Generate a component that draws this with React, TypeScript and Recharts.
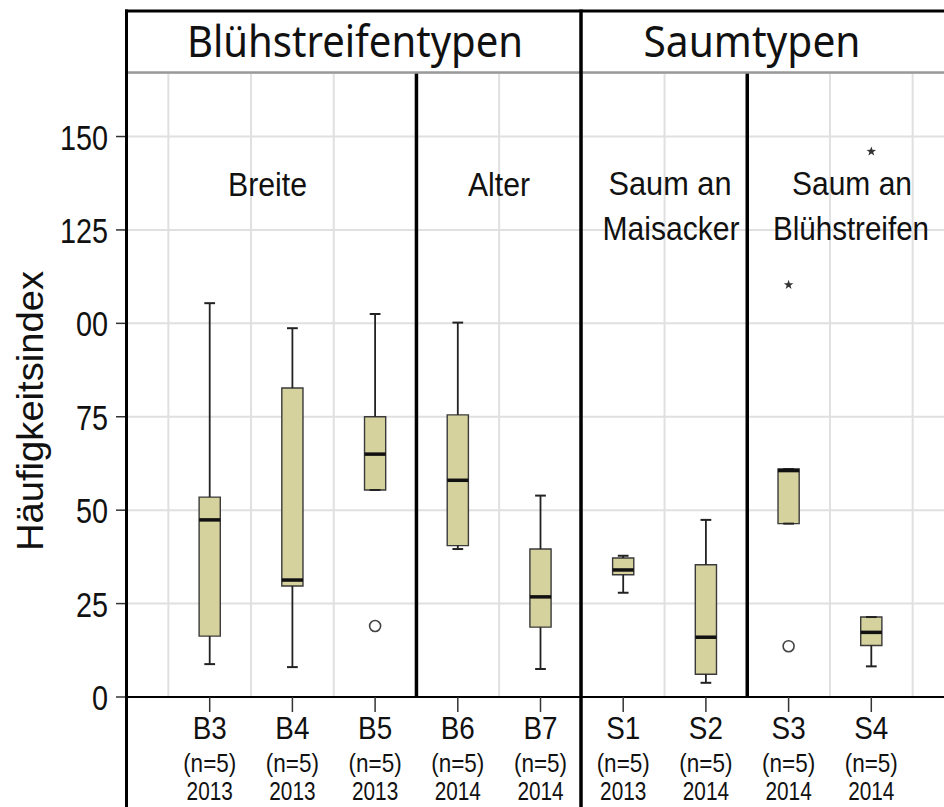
import React from "react";
import {
  ComposedChart,
  XAxis,
  YAxis,
  CartesianGrid,
  ReferenceArea,
  ReferenceLine,
  Scatter,
} from "recharts";

// categories and tick labels
const categories = ["B3", "B4", "B5", "B6", "B7", "S1", "S2", "S3", "S4"];
const sampleSizes = ["(n=5)", "(n=5)", "(n=5)", "(n=5)", "(n=5)", "(n=5)", "(n=5)", "(n=5)", "(n=5)"];
const years = ["2013", "2013", "2013", "2014", "2014", "2013", "2014", "2014", "2014"];
const yTicks = [0, 25, 50, 75, 100, 125, 150];
const yTickLabels = ["0", "25", "50", "75", "00", "125", "150"];

// box plot statistics
const whiskerLow = [8.8, 8.0, 55.4, 39.6, 7.5, 27.9, 3.8, 46.4, 8.2];
const q1 = [16.3, 29.7, 55.4, 40.5, 18.7, 32.7, 6.1, 46.4, 13.8];
const median = [47.4, 31.3, 65.0, 58.0, 26.8, 34.0, 16.0, 60.6, 17.3];
const q3 = [53.5, 82.7, 75.0, 75.5, 39.6, 37.2, 35.4, 61.0, 21.4];
const whiskerHigh = [105.4, 98.7, 102.5, 100.2, 53.9, 37.8, 47.4, 61.0, 21.4];

// outliers
const circleOutliers = [
  { x: 2, y: 19.0 },
  { x: 7, y: 13.6 },
];
const starOutliers = [
  { x: 7, y: 110.3 },
  { x: 8, y: 146.0 },
];

const gridX = [-0.5, 0.5, 1.5, 2.5, 3.5, 4.5, 5.5, 6.5, 7.5, 8.5];
const groupSeparators = [2.5, 6.5];

const FONT = "'Liberation Sans', Arial, sans-serif";
const HEAD_FONT = "'Noto Sans', 'Open Sans', sans-serif";
const BOX_FILL = "#d6d29d";
const HALF_BOX = 0.128;
const HALF_CAP = 0.065;

const XTick = (props: any) => {
  const { x, y, payload } = props;
  const i = payload.value as number;
  return (
    <g transform={`translate(${x},${y})`} fill="#111" fontFamily={FONT}>
      <text transform="translate(0,27) scale(0.87,1)" textAnchor="middle" fontSize={32}>
        {categories[i]}
      </text>
      <text transform="translate(0,60) scale(0.9,1)" textAnchor="middle" fontSize={25}>
        {sampleSizes[i]}
      </text>
      <text transform="translate(0,88) scale(0.8,1)" textAnchor="middle" fontSize={26}>
        {years[i]}
      </text>
    </g>
  );
};

const YTick = (props: any) => {
  const { x, y, payload } = props;
  const idx = yTicks.indexOf(payload.value);
  return (
    <text
      transform={`translate(${x},${y + 13}) scale(0.8,1)`}
      textAnchor="end"
      fontSize={36}
      fontFamily={FONT}
      fill="#111"
    >
      {yTickLabels[idx]}
    </text>
  );
};

const CircleMark = (props: any) => (
  <circle cx={props.cx} cy={props.cy} r={5.5} fill="#fff" stroke="#444" strokeWidth={1.6} />
);

const StarMark = (props: any) => {
  const { cx, cy } = props;
  const pts: string[] = [];
  for (let k = 0; k < 10; k++) {
    const r = k % 2 === 0 ? 5 : 2;
    const a = -Math.PI / 2 + (k * Math.PI) / 5;
    pts.push(`${cx + r * Math.cos(a)},${cy + r * Math.sin(a)}`);
  }
  return <polygon points={pts.join(" ")} fill="#333" />;
};

export default function App() {
  return (
    <div
      style={{
        position: "fixed",
        left: 0,
        top: 0,
        width: 944,
        height: 807,
        overflow: "hidden",
        background: "#fff",
      }}
    >
      <ComposedChart width={954} height={807} margin={{ top: 73, right: 0, bottom: 0, left: 67 }}>
        <CartesianGrid vertical={false} stroke="#e0e0e0" strokeWidth={2} />
        <XAxis
          type="number"
          dataKey="x"
          domain={[-1, 9]}
          ticks={[0, 1, 2, 3, 4, 5, 6, 7, 8]}
          interval={0}
          allowDataOverflow
          height={110}
          tickSize={15}
          tickMargin={0}
          tick={<XTick />}
          axisLine={{ stroke: "#000", strokeWidth: 2 }}
          tickLine={{ stroke: "#333", strokeWidth: 1.5 }}
        />
        <YAxis
          type="number"
          dataKey="y"
          domain={[0, 167]}
          ticks={yTicks}
          allowDataOverflow
          width={60}
          tickSize={11}
          tickMargin={8}
          tick={<YTick />}
          axisLine={false}
          tickLine={{ stroke: "#333", strokeWidth: 1.5 }}
        />
        {gridX.map((v) => (
          <ReferenceLine key={`g${v}`} x={v} stroke="#e0e0e0" strokeWidth={2} />
        ))}
        {groupSeparators.map((v) => (
          <ReferenceLine key={`s${v}`} x={v} stroke="#000" strokeWidth={3.5} />
        ))}
        {categories.map((c, i) => (
          <ReferenceArea
            key={`box${c}`}
            x1={i - HALF_BOX}
            x2={i + HALF_BOX}
            y1={q1[i]}
            y2={q3[i]}
            fill={BOX_FILL}
            fillOpacity={1}
            stroke="#3a3a3a"
            strokeWidth={1.4}
          />
        ))}
        {categories.map((c, i) => (
          <ReferenceLine
            key={`lw${c}`}
            segment={[
              { x: i, y: whiskerLow[i] },
              { x: i, y: q1[i] },
            ]}
            stroke="#222"
            strokeWidth={1.8}
          />
        ))}
        {categories.map((c, i) => (
          <ReferenceLine
            key={`hw${c}`}
            segment={[
              { x: i, y: q3[i] },
              { x: i, y: whiskerHigh[i] },
            ]}
            stroke="#222"
            strokeWidth={1.8}
          />
        ))}
        {categories.map((c, i) => (
          <ReferenceLine
            key={`lc${c}`}
            segment={[
              { x: i - HALF_CAP, y: whiskerLow[i] },
              { x: i + HALF_CAP, y: whiskerLow[i] },
            ]}
            stroke="#222"
            strokeWidth={2}
          />
        ))}
        {categories.map((c, i) => (
          <ReferenceLine
            key={`hc${c}`}
            segment={[
              { x: i - HALF_CAP, y: whiskerHigh[i] },
              { x: i + HALF_CAP, y: whiskerHigh[i] },
            ]}
            stroke="#222"
            strokeWidth={2}
          />
        ))}
        {categories.map((c, i) => (
          <ReferenceLine
            key={`md${c}`}
            segment={[
              { x: i - HALF_BOX, y: median[i] },
              { x: i + HALF_BOX, y: median[i] },
            ]}
            stroke="#111"
            strokeWidth={3.5}
          />
        ))}
        <Scatter data={circleOutliers} dataKey="y" shape={<CircleMark />} isAnimationActive={false} />
        <Scatter data={starOutliers} dataKey="y" shape={<StarMark />} isAnimationActive={false} />
      </ComposedChart>

      <svg
        width={944}
        height={807}
        style={{ position: "absolute", left: 0, top: 0, pointerEvents: "none" }}
      >
        {/* header frame */}
        <line x1={125} y1={11} x2={944} y2={11} stroke="#000" strokeWidth={3} />
        <line x1={128} y1={72.5} x2={944} y2={72.5} stroke="#9a9a9a" strokeWidth={2.5} />
        <line x1={126.5} y1={9.5} x2={126.5} y2={807} stroke="#000" strokeWidth={3} />
        <line x1={581} y1={9.5} x2={581} y2={807} stroke="#000" strokeWidth={3.5} />
        <text x={355} y={57} textAnchor="middle" fontSize={44} fontFamily={HEAD_FONT} textLength={336} lengthAdjust="spacingAndGlyphs" fill="#111">
          Blühstreifentypen
        </text>
        <text x={752} y={57} textAnchor="middle" fontSize={44} fontFamily={HEAD_FONT} textLength={217} lengthAdjust="spacingAndGlyphs" fill="#111">
          Saumtypen
        </text>

        {/* y axis title */}
        <text
          transform="translate(43,411) rotate(-90)"
          textAnchor="middle"
          fontSize={36}
          fontFamily={FONT}
          textLength={280}
          lengthAdjust="spacingAndGlyphs"
          fill="#111"
        >
          Häufigkeitsindex
        </text>

        {/* group annotations */}
        <g fontFamily={FONT} fontSize={34} fill="#111" textAnchor="middle">
          <text x={267.5} y={196} textLength={79} lengthAdjust="spacingAndGlyphs">Breite</text>
          <text x={499} y={196} textLength={62} lengthAdjust="spacingAndGlyphs">Alter</text>
          <text x={670} y={195} textLength={123} lengthAdjust="spacingAndGlyphs">Saum an</text>
          <text x={671} y={240} textLength={137} lengthAdjust="spacingAndGlyphs">Maisacker</text>
          <text x={852} y={195} textLength={120} lengthAdjust="spacingAndGlyphs">Saum an</text>
          <text x={851} y={240} textLength={156} lengthAdjust="spacingAndGlyphs">Blühstreifen</text>
        </g>
      </svg>
    </div>
  );
}
